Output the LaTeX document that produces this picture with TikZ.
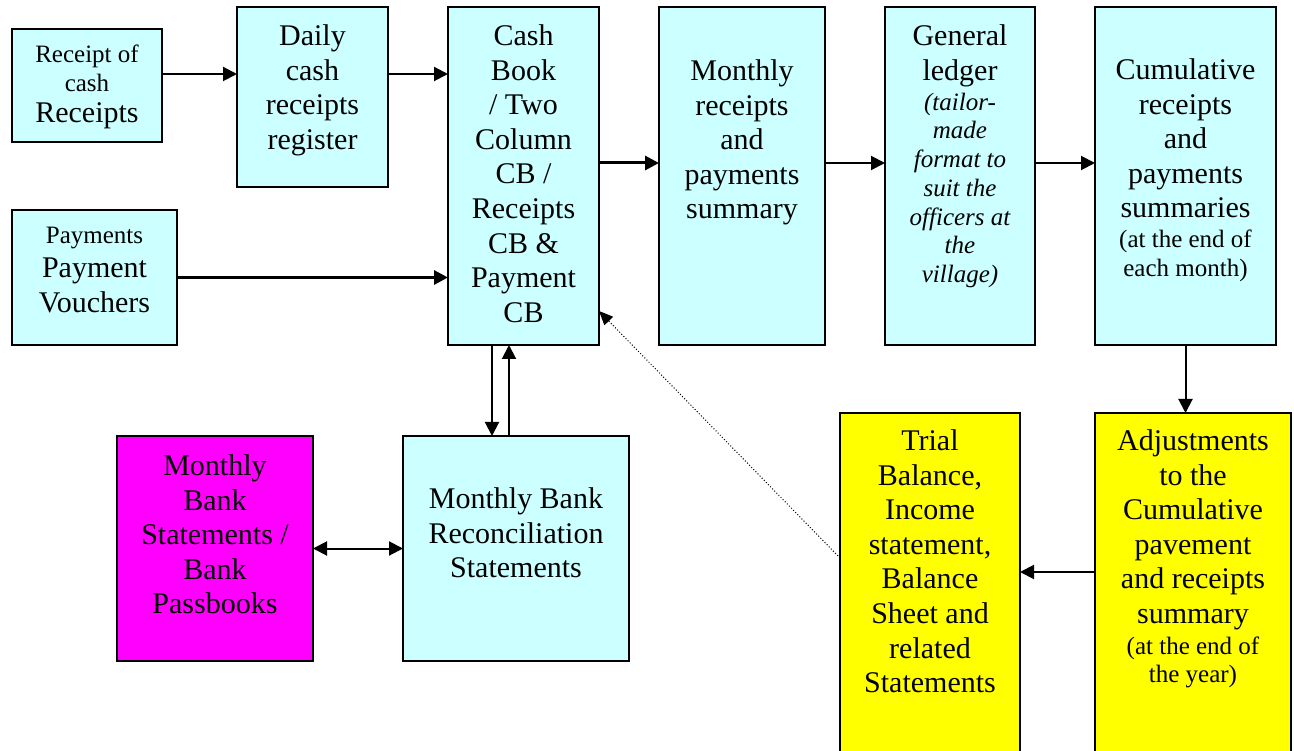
\documentclass[tikz,border=0pt]{standalone}
\usepackage{fontspec}
\setmainfont{Liberation Serif}
\usetikzlibrary{arrows.meta,calc}
\definecolor{cbox}{HTML}{CCFFFF}
\definecolor{mbox}{HTML}{FF00FF}
\definecolor{ybox}{HTML}{FFFF00}
\newcommand\fsbig{\fontsize{30}{34.6}\selectfont}
\newcommand\fssmall{\fontsize{25}{28.75}\selectfont}
\begin{document}
\begin{tikzpicture}[x=1pt,y=-1pt,
  box/.style={draw=black, line width=1.5pt, anchor=north west, inner sep=0pt, outer sep=0pt},
  txt/.style={anchor=north, align=center, inner sep=0pt, font=\fsbig},
  stxt/.style={anchor=north, align=center, inner sep=0pt, font=\fssmall},
  arr/.style={line width=2pt, -{Triangle[length=14pt,width=14pt]}},
  arrthick/.style={line width=3pt, -{Triangle[length=14pt,width=14pt]}},
  darr/.style={line width=2pt, {Triangle[length=14pt,width=14pt]}-{Triangle[length=14pt,width=14pt]}},
  dotarr/.style={line width=1pt, dotted, -{Triangle[length=14pt,width=12pt]}}]
\useasboundingbox (0,0) rectangle (1294,751);
\fill[white] (0,0) rectangle (1294,751);
% boxes
\node[box, fill=cbox, minimum width=150pt, minimum height=113pt] (b1) at (12,29) {};
\node[box, fill=cbox, minimum width=151pt, minimum height=180pt] (b2) at (237,7) {};
\node[box, fill=cbox, minimum width=151pt, minimum height=338pt] (b3) at (448,7) {};
\node[box, fill=cbox, minimum width=166pt, minimum height=338pt] (b4) at (659,7) {};
\node[box, fill=cbox, minimum width=150pt, minimum height=338pt] (b5) at (885,7) {};
\node[box, fill=cbox, minimum width=181pt, minimum height=338pt] (b6) at (1095,7) {};
\node[box, fill=cbox, minimum width=165pt, minimum height=135pt] (b7) at (12,210) {};
\node[box, fill=cbox, minimum width=226pt, minimum height=225pt] (b8) at (403,436) {};
\node[box, fill=mbox, minimum width=196pt, minimum height=225pt] (b9) at (117,436) {};
\node[box, fill=ybox, minimum width=180pt, minimum height=360pt] (b10) at (840,413) {};
\node[box, fill=ybox, minimum width=196pt, minimum height=360pt] (b11) at (1095,413) {};
% texts
\node[stxt] (t1) at (87,45) {Receipt of\\cash\\[2pt]{\fsbig Receipts}};
\node[txt] (t2) at (312.5,24.5) {Daily\\cash\\receipts\\register};
\node[txt] (t3) at (523.5,24.5) {Cash\\Book\\/ Two\\Column\\CB /\\Receipts\\CB \&\\Payment\\CB};
\node[txt] (t4) at (742,59.5) {Monthly\\receipts\\and\\payments\\summary};
\node[txt] (t5) at (960,24.5) {General\\ledger\\[-4.6pt]{\fssmall\itshape (tailor-}\\[-5.85pt]{\fssmall\itshape made}\\[-5.85pt]{\fssmall\itshape format to}\\[-5.85pt]{\fssmall\itshape suit the}\\[-5.85pt]{\fssmall\itshape officers at}\\[-5.85pt]{\fssmall\itshape the}\\[-5.85pt]{\fssmall\itshape village)}};
\node[txt] (t6) at (1185.5,58.5) {Cumulative\\receipts\\and\\payments\\summaries\\[-5pt]{\fssmall (at the end of}\\[-5.85pt]{\fssmall each month)}};
\node[txt] (t7) at (94.5,226.5) {{\fssmall Payments}\\Payment\\Vouchers};
\node[txt] (t8) at (516,487.5) {Monthly Bank\\Reconciliation\\Statements};
\node[txt] (t9) at (215,454.5) {Monthly\\Bank\\Statements /\\Bank\\Passbooks};
\node[txt] (t10) at (930,429.5) {Trial\\Balance,\\Income\\statement,\\Balance\\Sheet and\\related\\Statements};
\node[txt] (t11) at (1193,429.5) {Adjustments\\to the\\Cumulative\\pavement\\and receipts\\summary\\[-4.1pt]{\fssmall (at the end of}\\[-5.85pt]{\fssmall the year)}};
% connectors
\coordinate (p1) at ($(b1.north east)+(0,45)$);
\coordinate (p2) at ($(b2.north east)+(0,67)$);
\coordinate (p3) at ($(b3.north east)+(0,156)$);
\coordinate (p4) at ($(b4.north east)+(0,156)$);
\coordinate (p5) at ($(b5.north east)+(0,156)$);
\coordinate (p6) at ($(b3.south west)+(44,0)$);
\coordinate (p7) at ($(b8.north west)+(106,0)$);
\coordinate (p8) at ($(b11.north west)+(0,159)$);
\coordinate (p9) at ($(b10.north west)+(0,145)$);
\coordinate (p10) at ($(b3.south east)+(0,-34)$);
\draw[arr] (p1) -- (p1 -| b2.west);
\draw[arr] (p2) -- (p2 -| b3.west);
\draw[arrthick] (p3) -- (p3 -| b4.west);
\draw[arr] (p4) -- (p4 -| b5.west);
\draw[arr] (p5) -- (p5 -| b6.west);
\draw[arrthick] (b7.east) -- (b7.east -| b3.west);
\draw[arr] (p6) -- (p6 |- b8.north);
\draw[arr] (p7) -- (p7 |- b3.south);
\draw[arr] (b6.south) -- (b6.south |- b11.north);
\draw[arr] (p8) -- (p8 -| b10.east);
\draw[darr] (b9.east) -- (b8.west);
\draw[dotarr] (p9) -- (p10);
\end{tikzpicture}
\end{document}
